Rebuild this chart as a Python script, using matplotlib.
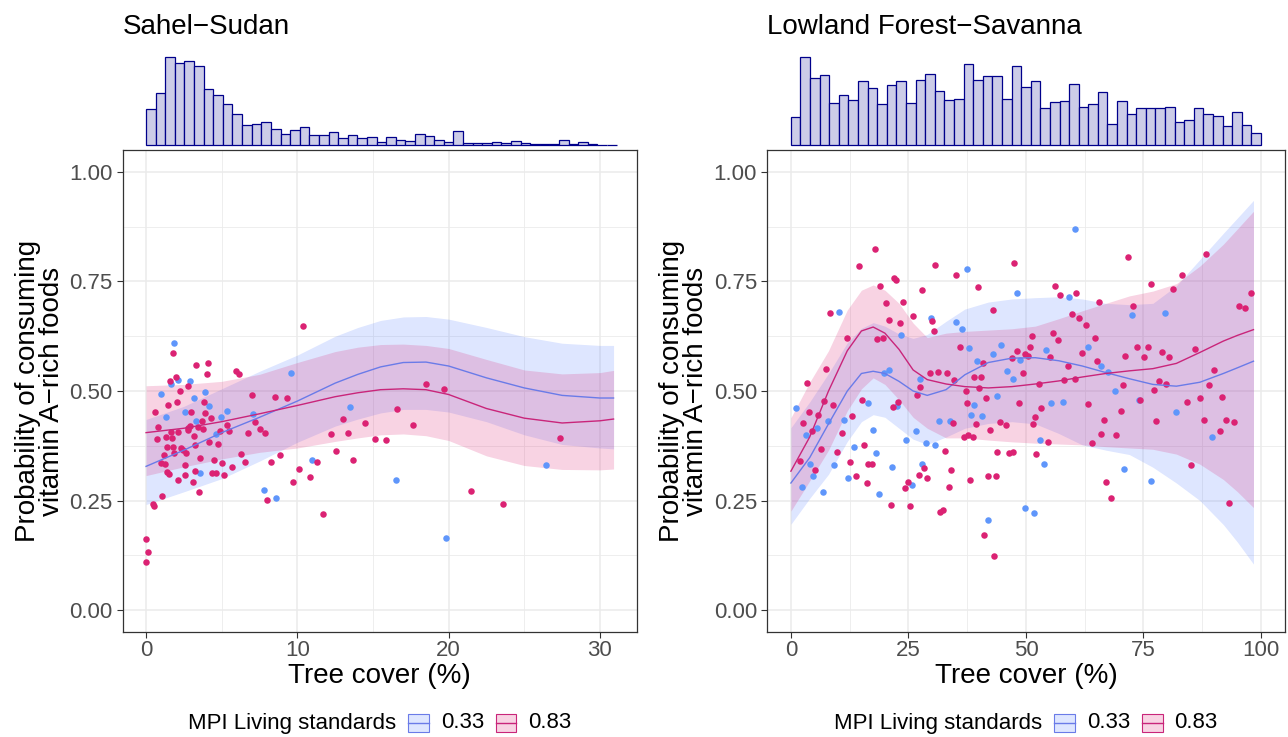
import numpy as np
import matplotlib
matplotlib.use('Agg')
import matplotlib.pyplot as plt
from matplotlib.offsetbox import AnchoredOffsetbox, HPacker, TextArea, DrawingArea
from matplotlib.patches import Rectangle
from matplotlib.lines import Line2D

plt.rcParams['font.family'] = ['Liberation Sans', 'DejaVu Sans']

# ---------------- data ----------------
panel_titles = ['Sahel\u2212Sudan', 'Lowland Forest\u2212Savanna']
group_labels = ['0.33', '0.83']

# Sahel-Sudan points
sahel_x_033 = [1.87, 1.63, 2.12, 2.89, 1.01, 3.88, 3.15, 4.16, 1.34, 2.60, 3.33, 4.96, 5.35, 4.60,
               3.59, 7.05, 9.58, 7.82, 8.57, 10.97, 13.48, 16.52, 26.42, 19.83]
sahel_y_033 = [0.609, 0.516, 0.525, 0.522, 0.493, 0.497, 0.483, 0.465, 0.441, 0.453, 0.431, 0.440, 0.454, 0.403,
               0.314, 0.447, 0.542, 0.275, 0.256, 0.343, 0.463, 0.296, 0.332, 0.165]
sahel_x_083 = [1.81, 3.30, 4.10, 4.03, 1.56, 1.98, 2.25, 2.80, 1.45, 2.03, 3.83, 0.59, 2.97, 3.92, 4.30,
               3.68, 0.82, 1.63, 2.09, 2.75, 2.93, 2.80, 3.41, 3.77, 1.30, 1.70, 0.73, 3.15, 4.89, 5.35,
               5.46, 4.16, 4.76, 1.39, 1.76, 2.29, 2.47, 2.67, 3.22, 1.87, 1.17, 0.97, 1.23, 3.59, 4.47,
               2.60, 5.00, 5.68, 1.41, 1.54, 2.56, 3.26, 4.38, 4.65, 5.18, 2.14, 3.08, 3.52, 1.08, 0.44,
               0.55, 0.00, 0.13, 0.00, 5.95, 6.12, 7.01, 7.23, 7.53, 7.84, 6.74, 6.28, 6.52, 8.55, 9.34,
               8.26, 8.86, 8.02, 9.69, 10.09, 10.86, 10.40, 13.00, 14.47, 12.23, 13.35, 15.16, 15.88,
               16.59, 17.67, 18.51, 19.72, 12.58, 11.28, 13.68, 11.72, 21.48, 23.58, 27.36]
sahel_y_083 = [0.586, 0.559, 0.564, 0.539, 0.522, 0.531, 0.500, 0.511, 0.468, 0.474, 0.475, 0.451, 0.453, 0.450, 0.438,
               0.431, 0.417, 0.407, 0.406, 0.415, 0.420, 0.412, 0.418, 0.414, 0.396, 0.393, 0.391, 0.397, 0.409, 0.422,
               0.408, 0.383, 0.380, 0.373, 0.373, 0.371, 0.365, 0.359, 0.377, 0.358, 0.353, 0.336, 0.334, 0.348, 0.342,
               0.332, 0.335, 0.327, 0.315, 0.310, 0.308, 0.317, 0.314, 0.312, 0.309, 0.296, 0.293, 0.270, 0.260, 0.242,
               0.238, 0.162, 0.133, 0.109, 0.545, 0.539, 0.490, 0.429, 0.414, 0.404, 0.404, 0.356, 0.337, 0.486, 0.484,
               0.339, 0.355, 0.251, 0.292, 0.323, 0.304, 0.648, 0.436, 0.428, 0.401, 0.404, 0.391, 0.389,
               0.459, 0.422, 0.516, 0.504, 0.364, 0.338, 0.343, 0.219, 0.272, 0.241, 0.393]

# Sahel-Sudan smooth fits
sahel_fit_x = [0, 2.5, 5, 7.5, 10, 12.5, 14, 15.5, 17, 18.5, 20, 22.5, 25, 27.5, 30, 30.9]
sahel_fit_033 = [0.328, 0.365, 0.405, 0.44, 0.477, 0.518, 0.538, 0.555, 0.565, 0.566, 0.557, 0.53, 0.507, 0.49, 0.484, 0.484]
sahel_lo_033 = [0.241, 0.27, 0.30, 0.34, 0.383, 0.42, 0.436, 0.450, 0.458, 0.458, 0.452, 0.43, 0.40, 0.378, 0.37, 0.368]
sahel_hi_033 = [0.435, 0.465, 0.505, 0.545, 0.582, 0.625, 0.645, 0.661, 0.669, 0.670, 0.664, 0.645, 0.624, 0.609, 0.604, 0.604]
sahel_fit_083 = [0.405, 0.415, 0.43, 0.448, 0.467, 0.487, 0.496, 0.503, 0.505, 0.503, 0.492, 0.46, 0.438, 0.427, 0.432, 0.436]
sahel_lo_083 = [0.307, 0.327, 0.345, 0.36, 0.37, 0.385, 0.393, 0.400, 0.402, 0.398, 0.387, 0.352, 0.33, 0.321, 0.32, 0.322]
sahel_hi_083 = [0.512, 0.515, 0.522, 0.538, 0.565, 0.59, 0.600, 0.606, 0.607, 0.604, 0.597, 0.572, 0.548, 0.539, 0.542, 0.547]

# Sahel-Sudan tree cover histogram (bar heights, 0-31 %)
sahel_hist = [108, 155, 264, 247, 251, 238, 169, 150, 122, 92, 61, 64, 68, 49, 34, 46, 53, 29, 29, 38,
              21, 30, 21, 24, 9, 25, 15, 11, 33, 27, 16, 10, 42, 6, 5, 6, 9, 6, 12, 6, 4, 3, 2, 16, 3, 10, 3, 1, 1]
sahel_range = (0, 31.1)

# Lowland Forest-Savanna points
forest_x_033 = [37.56, 48.13, 10.32, 29.76, 35.08, 36.35, 23.44, 37.98, 44.65, 39.69, 43.02, 48.76, 20.89,
                19.90, 27.42, 46.00, 47.20, 43.80, 1.10, 16.49, 22.52, 38.91, 7.98, 11.25, 5.50, 3.16, 17.56,
                38.27, 40.75, 31.53, 33.87, 26.64, 24.44, 28.76, 30.75, 13.44, 18.13, 4.08, 9.19, 21.53, 27.84,
                4.79, 12.17, 2.31, 6.78, 25.71, 18.76, 49.83, 42.03,
                60.47, 59.12, 72.60, 79.55, 63.24, 54.37, 66.00, 67.35, 68.98, 74.09, 55.37, 57.85, 81.96,
                89.62, 52.95, 53.88, 70.90, 76.57, 51.68]
forest_y_033 = [0.779, 0.723, 0.680, 0.667, 0.658, 0.642, 0.627, 0.597, 0.605, 0.569, 0.584, 0.570, 0.547,
                0.540, 0.528, 0.545, 0.528, 0.489, 0.461, 0.472, 0.465, 0.467, 0.432, 0.433, 0.415, 0.399, 0.410,
                0.445, 0.442, 0.432, 0.432, 0.408, 0.389, 0.381, 0.376, 0.373, 0.359, 0.333, 0.331, 0.327, 0.334,
                0.306, 0.301, 0.281, 0.270, 0.285, 0.264, 0.232, 0.206,
                0.870, 0.714, 0.674, 0.679, 0.600, 0.593, 0.558, 0.543, 0.501, 0.480, 0.472, 0.475, 0.453,
                0.395, 0.389, 0.334, 0.323, 0.295, 0.222]
forest_x_083 = [17.84, 14.51, 30.75, 35.08, 47.49, 22.0, 22.3, 18.98, 27.98, 39.83, 8.34, 20.32, 23.80, 20.89,
                23.30, 25.93, 30.04, 42.95, 30.47, 11.96, 18.34, 19.61, 35.93, 48.13, 49.90, 50.47, 40.89,
                47.06, 7.49, 3.44, 29.54, 31.25, 33.23, 34.72, 38.91, 40.54, 49.40, 27.49, 26.78, 37.20, 40.04,
                41.53, 6.99, 8.98, 15.08, 22.74, 21.81, 37.56, 48.55, 3.87, 5.71, 13.09, 2.52, 4.44, 10.89,
                39.40, 42.38, 44.58, 45.79, 34.44, 36.85, 37.77, 38.69, 6.35, 15.64, 9.83, 32.74, 43.94, 46.42,
                47.27, 1.88, 12.59, 16.49, 17.20, 28.41, 5.15, 34.08, 13.80, 27.27, 28.91, 41.96, 43.59, 38.13,
                16.21, 25.00, 24.22, 33.66, 21.39, 25.43, 31.81, 32.45, 41.10, 43.30,
                71.68, 88.34, 83.24, 56.22, 57.28, 60.68, 76.57, 81.32, 65.58, 72.67, 59.83, 61.25, 62.67,
                97.85, 95.22, 96.57, 55.79, 56.78, 51.25, 50.90, 64.66, 55.22, 61.96, 65.15, 59.05, 71.11,
                73.66, 75.86, 75.08, 78.91, 80.40, 86.00, 58.06, 60.33, 52.67, 70.68, 78.20, 79.76, 77.14,
                89.98, 88.91, 74.30, 86.93, 91.75, 84.23, 63.24, 53.17, 70.26, 51.89, 51.54, 66.64, 77.64,
                87.78, 92.60, 94.16, 91.25, 65.93, 69.20, 63.95, 54.59, 52.10, 85.15, 67.00, 68.06, 93.24]
forest_y_083 = [0.823, 0.785, 0.787, 0.765, 0.793, 0.759, 0.754, 0.740, 0.731, 0.737, 0.679, 0.700, 0.703, 0.662,
                0.656, 0.672, 0.659, 0.684, 0.636, 0.621, 0.619, 0.620, 0.601, 0.592, 0.585, 0.579, 0.564,
                0.576, 0.550, 0.519, 0.542, 0.544, 0.542, 0.525, 0.533, 0.531, 0.541, 0.508, 0.490, 0.500, 0.507,
                0.484, 0.478, 0.468, 0.480, 0.475, 0.463, 0.472, 0.473, 0.453, 0.445, 0.444, 0.427, 0.408, 0.405,
                0.424, 0.411, 0.429, 0.422, 0.427, 0.396, 0.400, 0.396, 0.367, 0.376, 0.361, 0.364, 0.361, 0.358,
                0.361, 0.341, 0.337, 0.334, 0.334, 0.325, 0.320, 0.320, 0.306, 0.309, 0.301, 0.306, 0.306, 0.296,
                0.290, 0.292, 0.279, 0.280, 0.240, 0.238, 0.223, 0.229, 0.172, 0.123,
                0.806, 0.812, 0.765, 0.740, 0.720, 0.723, 0.744, 0.733, 0.702, 0.695, 0.676, 0.667, 0.651,
                0.723, 0.695, 0.689, 0.632, 0.617, 0.626, 0.601, 0.620, 0.577, 0.587, 0.568, 0.556, 0.581,
                0.601, 0.601, 0.577, 0.589, 0.577, 0.596, 0.526, 0.527, 0.515, 0.514, 0.522, 0.517, 0.503,
                0.549, 0.514, 0.479, 0.483, 0.487, 0.475, 0.470, 0.461, 0.454, 0.440, 0.424, 0.434, 0.431,
                0.434, 0.434, 0.430, 0.408, 0.401, 0.399, 0.381, 0.383, 0.357, 0.331, 0.292, 0.256, 0.245]

# Lowland Forest-Savanna smooth fits
forest_fit_x = [0, 4, 8, 12, 15, 17.5, 20, 23, 26, 29, 33, 37, 42, 47, 52, 57, 62, 67, 72, 77, 82, 87, 92, 95, 98.4]
forest_fit_033 = [0.29, 0.348, 0.425, 0.50, 0.54, 0.545, 0.54, 0.522, 0.5, 0.49, 0.503, 0.537, 0.565, 0.575, 0.576,
                  0.569, 0.557, 0.542, 0.528, 0.515, 0.511, 0.52, 0.54, 0.553, 0.568]
forest_lo_033 = [0.196, 0.255, 0.31, 0.385, 0.43, 0.446, 0.44, 0.415, 0.39, 0.378, 0.395, 0.415, 0.426, 0.43, 0.425,
                 0.403, 0.377, 0.365, 0.355, 0.326, 0.29, 0.25, 0.195, 0.155, 0.105]
forest_hi_033 = [0.416, 0.475, 0.54, 0.61, 0.643, 0.656, 0.648, 0.63, 0.62, 0.629, 0.659, 0.687, 0.703, 0.71, 0.713,
                 0.715, 0.71, 0.70, 0.697, 0.70, 0.74, 0.80, 0.86, 0.895, 0.935]
forest_fit_083 = [0.317, 0.395, 0.50, 0.592, 0.637, 0.646, 0.632, 0.595, 0.548, 0.526, 0.516, 0.51, 0.507, 0.51, 0.516,
                  0.523, 0.532, 0.54, 0.546, 0.551, 0.563, 0.588, 0.614, 0.627, 0.64]
forest_lo_083 = [0.226, 0.295, 0.365, 0.455, 0.505, 0.53, 0.515, 0.48, 0.44, 0.415, 0.393, 0.393, 0.388, 0.384, 0.381,
                 0.379, 0.377, 0.373, 0.37, 0.367, 0.356, 0.333, 0.298, 0.27, 0.234]
forest_hi_083 = [0.439, 0.52, 0.592, 0.685, 0.73, 0.742, 0.73, 0.70, 0.655, 0.622, 0.632, 0.636, 0.639, 0.642, 0.648,
                 0.665, 0.683, 0.70, 0.717, 0.728, 0.745, 0.785, 0.835, 0.87, 0.91]

# Lowland Forest-Savanna tree cover histogram (bar heights, 0-100 %)
forest_hist = [84, 264, 201, 210, 126, 151, 135, 191, 171, 123, 179, 193, 125, 195, 212, 163, 135, 137, 244, 194,
               206, 207, 137, 236, 175, 191, 111, 129, 133, 183, 114, 123, 159, 63, 133, 92, 112, 112, 112, 114,
               70, 76, 110, 94, 88, 57, 99, 60, 35]
forest_range = (0, 100)

# ---------------- style ----------------
W, H = 1288, 737
pt_col = ['#5F96FB', '#DB2273']
line_col = ['#6A7BE8', '#C9257A']
rib_col = ['#5A82FF', '#DC2373']
hist_fill = '#CCCCE8'
hist_edge = '#00008B'

fig = plt.figure(figsize=(W / 100, H / 100), dpi=100)


def px_axes(l, t, r, b):
    return fig.add_axes([l / W, 1 - b / H, (r - l) / W, (b - t) / H])


panels = [
    dict(title=panel_titles[0], left=122.7, right=637.0, xlim=(-1.545, 32.45), xticks=[0, 10, 20, 30],
         xminor=[5, 15, 25], hist=sahel_hist, hrange=sahel_range,
         px=[sahel_x_033, sahel_x_083], py=[sahel_y_033, sahel_y_083], fx=sahel_fit_x,
         fit=[sahel_fit_033, sahel_fit_083], lo=[sahel_lo_033, sahel_lo_083], hi=[sahel_hi_033, sahel_hi_083]),
    dict(title=panel_titles[1], left=767.4, right=1284.5, xlim=(-5, 105), xticks=[0, 25, 50, 75, 100],
         xminor=[12.5, 37.5, 62.5, 87.5], hist=forest_hist, hrange=forest_range,
         px=[forest_x_033, forest_x_083], py=[forest_y_033, forest_y_083], fx=forest_fit_x,
         fit=[forest_fit_033, forest_fit_083], lo=[forest_lo_033, forest_lo_083], hi=[forest_hi_033, forest_hi_083]),
]

top, bottom = 150, 632
for p in panels:
    ax = px_axes(p['left'], top, p['right'], bottom)
    ax.set_xlim(*p['xlim'])
    ax.set_ylim(-0.05, 1.05)

    # grid
    for v in p['xminor']:
        ax.axvline(v, color='#EBEBEB', lw=0.6, zorder=0)
    for v in [0.125, 0.375, 0.625, 0.875]:
        ax.axhline(v, color='#EBEBEB', lw=0.6, zorder=0)
    for v in p['xticks']:
        ax.axvline(v, color='#EBEBEB', lw=1.1, zorder=0)
    for v in [0, 0.25, 0.5, 0.75, 1.0]:
        ax.axhline(v, color='#EBEBEB', lw=1.1, zorder=0)

    # ribbons, points and fitted lines
    for g in range(2):
        ax.fill_between(p['fx'], p['lo'][g], p['hi'][g], color=rib_col[g], alpha=0.2, lw=0, zorder=1)
    for g in range(2):
        ax.scatter(p['px'][g], p['py'][g], s=22, color=pt_col[g], lw=0, zorder=3)
    for g in range(2):
        ax.plot(p['fx'], p['fit'][g], color=line_col[g], lw=1.0, zorder=4)

    ax.set_xticks(p['xticks'])
    ax.set_yticks([0, 0.25, 0.5, 0.75, 1.0])
    ax.set_yticklabels(['0.00', '0.25', '0.50', '0.75', '1.00'])
    ax.tick_params(labelsize=16, labelcolor='#4D4D4D', color='#333333', length=4, width=0.8, direction='out')
    ax.tick_params(axis='y', pad=3.5)
    ax.tick_params(axis='x', pad=1.5)
    for s in ax.spines.values():
        s.set_color('#333333')
        s.set_linewidth(0.9)
    ax.set_xlabel('Tree cover (%)', fontsize=20, labelpad=2)

    # y label (two lines)
    cx = p['left'] - 83
    fig.text(cx / W, 1 - (top + bottom) / 2 / H, 'Probability of consuming\nvitamin A\u2212rich foods',
             rotation=90, ha='center', va='center', fontsize=20, linespacing=0.9, multialignment='center')

    # marginal histogram
    hax = px_axes(p['left'], 50, p['right'], 145)
    n = len(p['hist'])
    edges = np.linspace(p['hrange'][0], p['hrange'][1], n + 1)
    hax.bar(edges[:-1], p['hist'], width=np.diff(edges), align='edge', color=hist_fill,
            edgecolor=hist_edge, linewidth=0.9, clip_on=False)
    hax.set_xlim(*p['xlim'])
    hax.set_ylim(0, max(p['hist']) * 95 / 88)
    hax.axis('off')

    # title
    fig.text(p['left'] / W, 1 - 34 / H, p['title'], fontsize=20, ha='left', va='baseline')

    # legend
    children = [TextArea('MPI Living standards', textprops=dict(fontsize=16, color='black'))]
    for g in range(2):
        da = DrawingArea(15.8, 14.2, 0, 0)
        da.add_artist(Rectangle((0.4, 0.4), 15.0, 13.4, facecolor=rib_col[g], alpha=0.2, lw=0))
        da.add_artist(Rectangle((0.4, 0.4), 15.0, 13.4, facecolor='none', edgecolor=line_col[g], lw=0.8))
        da.add_artist(Line2D([0.4, 15.4], [7.1, 7.1], color=line_col[g], lw=1.0))
        children.append(da)
        children.append(TextArea(group_labels[g], textprops=dict(fontsize=16, color='black')))
    box = HPacker(children=children, sep=8, align='center', pad=0)
    anc = AnchoredOffsetbox(loc='center', child=box, frameon=False, pad=0, borderpad=0,
                            bbox_to_anchor=((p['left'] + p['right']) / 2 / W, 1 - 723 / H),
                            bbox_transform=fig.transFigure)
    fig.add_artist(anc)

fig.savefig('out.png', dpi=100)
